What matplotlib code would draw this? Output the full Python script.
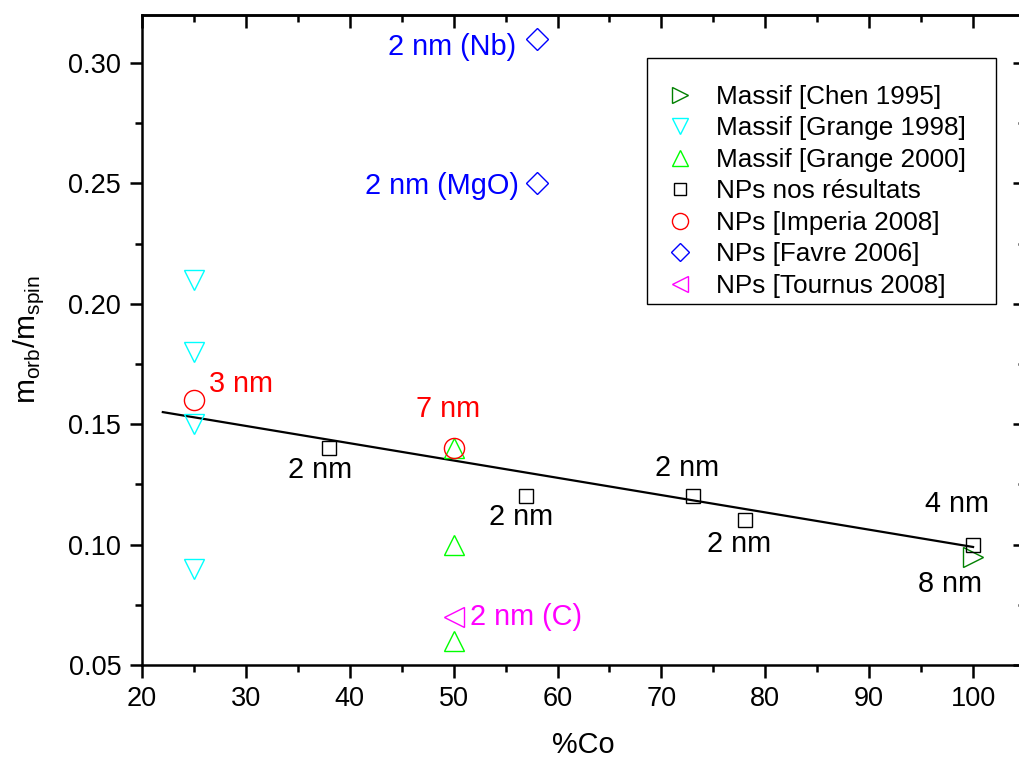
import matplotlib
matplotlib.use('Agg')
import matplotlib.pyplot as plt
from matplotlib.patches import Rectangle
from matplotlib.ticker import MultipleLocator

plt.rcParams['font.family'] = ['Liberation Sans', 'DejaVu Sans']

# data
chen_x = [100]
chen_y = [0.095]
grange98_x = [25, 25, 25, 25]
grange98_y = [0.21, 0.18, 0.15, 0.09]
grange00_x = [50, 50, 50]
grange00_y = [0.14, 0.10, 0.06]
nos_x = [38, 57, 73, 78, 100]
nos_y = [0.14, 0.12, 0.12, 0.11, 0.10]
imperia_x = [25, 50]
imperia_y = [0.16, 0.14]
favre_x = [58, 58]
favre_y = [0.31, 0.25]
tournus_x = [50]
tournus_y = [0.07]
fit_x = [22, 100]
fit_y = [0.155, 0.099]

# annotations: text, x, y, colour, ha
notes = [
    ('2 nm (Nb)', 56.0, 0.3066, 'blue', 'right'),
    ('2 nm (MgO)', 56.3, 0.2489, 'blue', 'right'),
    ('3 nm', 26.4, 0.1667, 'red', 'left'),
    ('7 nm', 49.5, 0.1563, 'red', 'center'),
    ('2 nm', 37.1, 0.131, 'black', 'center'),
    ('2 nm', 56.5, 0.1115, 'black', 'center'),
    ('2 nm', 72.5, 0.1318, 'black', 'center'),
    ('2 nm', 77.5, 0.1003, 'black', 'center'),
    ('4 nm', 98.5, 0.1169, 'black', 'center'),
    ('8 nm', 97.8, 0.0837, 'black', 'center'),
    ('2 nm (C)', 51.6, 0.0699, '#ff00ff', 'left'),
]

fig = plt.figure(figsize=(10.19, 7.58), dpi=100)
ax = fig.add_axes([0.1394, 0.1227, 0.8665, 0.8579])

mew = 1.0
ax.plot(fit_x, fit_y, color='black', lw=1.6, zorder=1)
ax.plot(chen_x, chen_y, ls='none', marker='>', ms=14, mfc='none', mec='#008000', mew=mew,
        label='Massif [Chen 1995]')
ax.plot(grange98_x, grange98_y, ls='none', marker='v', ms=14, mfc='none', mec='#00ffff', mew=mew,
        label='Massif [Grange 1998]')
ax.plot(grange00_x, grange00_y, ls='none', marker='^', ms=14, mfc='none', mec='#00ff00', mew=mew,
        label='Massif [Grange 2000]')
ax.plot(nos_x, nos_y, ls='none', marker='s', ms=10.5, mfc='none', mec='black', mew=mew,
        label='NPs nos résultats')
ax.plot(imperia_x, imperia_y, ls='none', marker='o', ms=14.5, mfc='none', mec='red', mew=mew,
        label='NPs [Imperia 2008]')
ax.plot(favre_x, favre_y, ls='none', marker='D', ms=11.5, mfc='none', mec='blue', mew=mew,
        label='NPs [Favre 2006]')
ax.plot(tournus_x, tournus_y, ls='none', marker='<', ms=14, mfc='none', mec='#ff00ff', mew=mew,
        label='NPs [Tournus 2008]')

for txt, x, y, c, ha in notes:
    ax.text(x, y, txt, color=c, ha=ha, va='center', fontsize=20.8)

ax.set_xlim(20, 105)
ax.set_ylim(0.05, 0.32)
ax.xaxis.set_major_locator(MultipleLocator(10))
ax.xaxis.set_minor_locator(MultipleLocator(5))
ax.yaxis.set_major_locator(MultipleLocator(0.05))
ax.yaxis.set_minor_locator(MultipleLocator(0.025))
ax.yaxis.set_major_formatter(plt.FormatStrFormatter('%.2f'))
ax.tick_params(which='major', direction='out', length=9, width=1.8, labelsize=19.5, pad=6)
ax.tick_params(which='minor', direction='out', length=5, width=1.8)
for s in ax.spines.values():
    s.set_linewidth(1.8)

# inward ticks on top and right, no labels
top = ax.secondary_xaxis('top')
top.xaxis.set_major_locator(MultipleLocator(10))
top.xaxis.set_minor_locator(MultipleLocator(5))
top.tick_params(which='major', direction='in', length=9, width=1.8, labeltop=False)
top.tick_params(which='minor', direction='in', length=5, width=1.8)
top.spines['top'].set_linewidth(1.8)
right = ax.secondary_yaxis('right')
right.yaxis.set_major_locator(MultipleLocator(0.05))
right.yaxis.set_minor_locator(MultipleLocator(0.025))
right.tick_params(which='major', direction='in', length=9, width=1.8, labelright=False)
right.tick_params(which='minor', direction='in', length=5, width=1.8)

ax.set_xlabel('%Co', fontsize=20.8, labelpad=14)
ax.set_ylabel(r'm$_{\mathregular{orb}}$/m$_{\mathregular{spin}}$', fontsize=21.5, labelpad=16)

# legend frame drawn separately (more room above the entries than below)
ax.add_patch(Rectangle((0.5719, 0.5551), 0.3953, 0.3783, transform=ax.transAxes,
                       fill=False, edgecolor='black', lw=1.0, zorder=4))
leg = ax.legend(loc='upper left', bbox_to_anchor=(0.5946, 0.8919), fontsize=18.8, markerscale=0.8,
                frameon=False, handletextpad=0.88, labelspacing=0.285, borderpad=0,
                handlelength=1.0, borderaxespad=0)

fig.savefig('out.png', dpi=100)
